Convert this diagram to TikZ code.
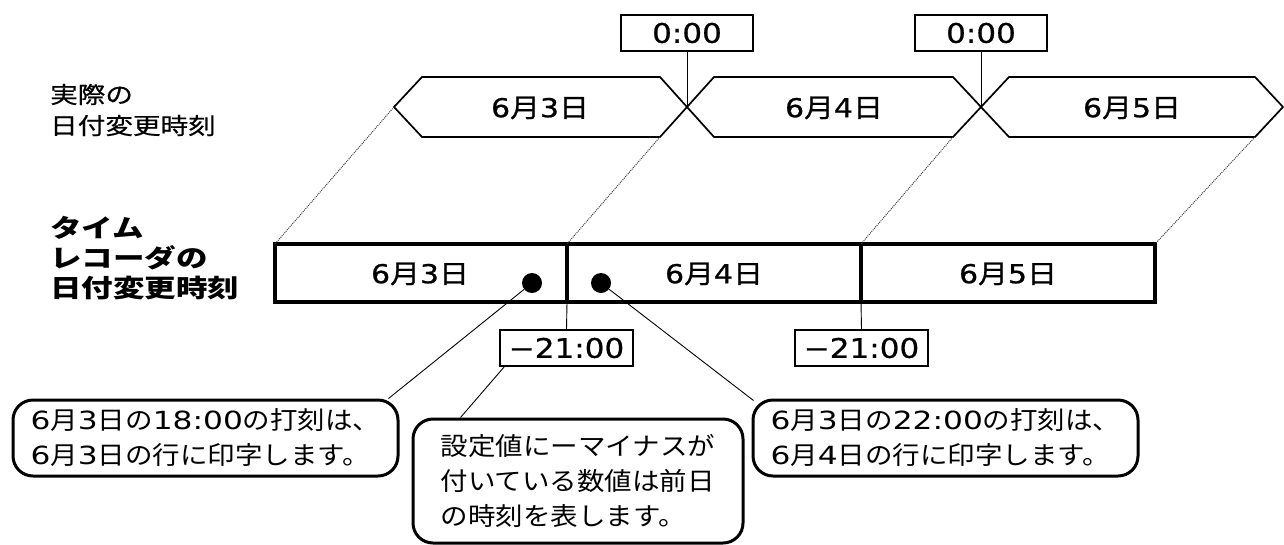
\documentclass[tikz,border=0pt]{standalone}
\usepackage{fontspec}
\newfontfamily\jp[FakeStretch=1.15,FakeBold=0.8]{Noto Sans CJK JP}
\newfontfamily\jpc[FakeStretch=1.1]{Noto Sans CJK JP}
\newfontfamily\jpl[FakeStretch=1.2,FakeBold=0.6]{Noto Sans CJK JP}
\newfontfamily\jpb[FakeStretch=1.26]{Noto Sans CJK JP}
\newfontfamily\dg[FakeStretch=1.15,FakeBold=0.8]{DejaVu Sans}
\newfontfamily\dgw[FakeStretch=1.25]{DejaVu Sans}
\usetikzlibrary{calc}
\begin{document}
\begin{tikzpicture}[x=1pt,y=-1pt,
  hexline/.style={line width=1.7pt, line join=miter},
  timebox/.style={draw, line width=1.2pt, minimum width=132pt, minimum height=36pt, inner sep=0pt, font=\dg\fontsize{27}{27}\selectfont},
  daytext/.style={inner sep=0pt, font=\jp\fontsize{26}{26}\selectfont},
  thin/.style={line width=0.9pt},
  dots/.style={line width=1pt, densely dotted, black!75},
  band/.style={line width=4.5pt},
  callout/.style={draw, line width=3pt, rounded corners=20pt, inner sep=0pt, align=left, font=\jpc\fontsize{25}{35}\selectfont},
  blob/.style={circle, fill=black, inner sep=0pt, minimum size=20pt}
]
\useasboundingbox (0,0) rectangle (1284,544);

% left labels
\node[anchor=west, align=left, inner sep=0pt, font=\jpl\fontsize{23}{31}\selectfont] (lab1) at (50,110) {実際の\\日付変更時刻};
\node[anchor=west, align=left, inner sep=0pt, font=\jpb\bfseries\fontsize{25}{30}\selectfont] (lab2) at (50,258) {タイム\\レコーダの\\日付変更時刻};

% top hexagons
\coordinate (xa) at (687,107);
\coordinate (xb) at (981,107);
\coordinate (h1l) at (394,107);
\coordinate (h1br) at (660,137);
\coordinate (h2br) at (953,137);
\coordinate (h3br) at (1255,137);
\draw[hexline] (h1l) -- (422,77) -- (660,77) -- (xa) -- (h1br) -- (422,137) -- cycle;
\draw[hexline] (xa) -- (714,77) -- (953,77) -- (xb) -- (h2br) -- (714,137) -- cycle;
\draw[hexline] (xb) -- (1009,77) -- (1255,77) -- (1283,107) -- (h3br) -- (1009,137) -- cycle;
\node[daytext] (t1) at (540,108) {{\dg 6}月{\dg 3}日};
\node[daytext] (t2) at (834,108) {{\dg 6}月{\dg 4}日};
\node[daytext] (t3) at (1132,108) {{\dg 6}月{\dg 5}日};

% 0:00 boxes
\node[timebox] (z1) at (687,33) {0:00};
\node[timebox] (z2) at (981,33) {0:00};
\draw[thin] (z1.south) -- (xa);
\draw[thin] (z2.south) -- (xb);

% time recorder band
\coordinate (bl) at (275,244);
\coordinate (br) at (1155,244);
\coordinate (da) at (567,244);
\coordinate (db) at (861,244);
\coordinate (dab) at (567,302);
\coordinate (dbb) at (861,302);
\draw[band] (275,244) rectangle (1155,302);
\draw[band] (da) -- (dab);
\draw[band] (db) -- (dbb);
\node[daytext] (s1) at (420,274) {{\dg 6}月{\dg 3}日};
\node[daytext] (s2) at (714,274) {{\dg 6}月{\dg 4}日};
\node[daytext] (s3) at (1008,274) {{\dg 6}月{\dg 5}日};

% dotted guides
\draw[dots] (h1l) -- (bl);
\draw[dots] (h1br) -- (da);
\draw[dots] (h2br) -- (db);
\draw[dots] (h3br) -- (br);

% -21:00 boxes
\node[timebox, minimum width=133pt] (m1) at (566.5,348) {−21:00};
\node[timebox, minimum width=133pt] (m2) at (861.5,348) {−21:00};
\draw[thin] (dab) -- (m1.north);
\draw[thin] (dbb) -- (m2.north);

% dots
\node[blob] (d1) at (532,283) {};
\node[blob] (d2) at (601,283) {};

% callouts
\node[callout, minimum width=385pt, minimum height=76pt] (c1) at (205.5,438)
  {{\dgw 6}月{\dgw 3}日の{\dgw 18:00}の打刻は、\\{\dgw 6}月{\dgw 3}日の行に印字します。};
\node[callout, minimum width=330pt, minimum height=124pt] (c2) at (578,481)
  {設定値にーマイナスが\\付いている数値は前日\\の時刻を表します。};
\node[callout, minimum width=385pt, minimum height=76pt] (c3) at (945.5,438)
  {{\dgw 6}月{\dgw 3}日の{\dgw 22:00}の打刻は、\\{\dgw 6}月{\dgw 4}日の行に印字します。};

\draw[thin] (d1) -- ($(c1.north east)+(-11,0)$);
\draw[thin] ($(m1.south west)+(5,0)$) -- ($(c2.north west)+(49,0)$);
\draw[thin] (d2) -- ($(c3.north west)+(2,2)$);
\end{tikzpicture}
\end{document}
